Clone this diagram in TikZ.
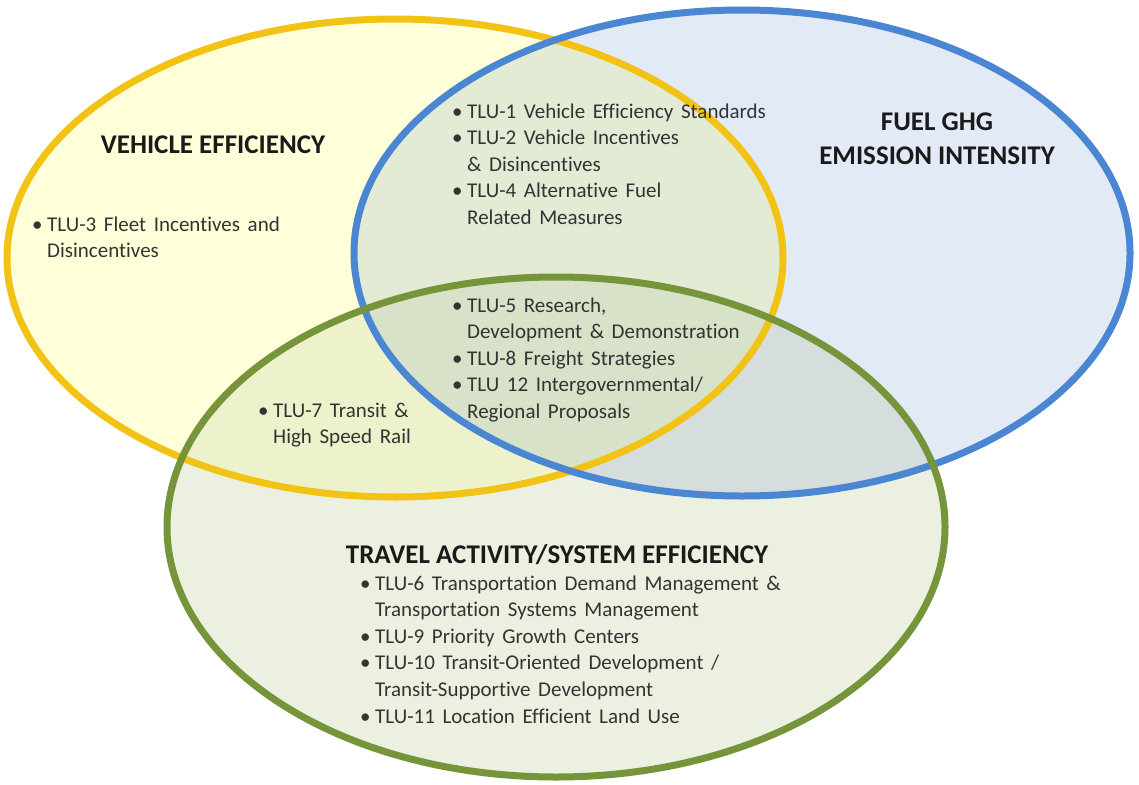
\documentclass[tikz,border=0pt]{standalone}
\usepackage{fontspec}
\setmainfont{Carlito}[Ligatures=NoCommon]
\newfontfamily\listfont{Carlito}[WordSpace=1.6,Ligatures=NoCommon]
\definecolor{yline}{HTML}{F2C314}
\definecolor{bline}{HTML}{4A86D2}
\definecolor{gline}{HTML}{76943A}
\definecolor{yfillc}{HTML}{FFFFDA}
\definecolor{bfillc}{HTML}{E2EAF6}
\definecolor{gfillc}{HTML}{EBF0E0}
\definecolor{ybfillc}{HTML}{E3EBD5}
\definecolor{ygfillc}{HTML}{EEF2CC}
\definecolor{bgfillc}{HTML}{D5DEDC}
\definecolor{ybgfillc}{HTML}{D8E2C8}
\definecolor{txt}{HTML}{333333}
\definecolor{ttl}{HTML}{1A1A1A}
\newcommand{\bl}{\llap{\makebox[15pt][l]{\textbullet}}}
\newcommand{\lns}[1]{\begin{tabular}[t]{@{}l@{}}#1\end{tabular}}
\begin{document}
\begin{tikzpicture}[x=1pt,y=-1pt,
  ring/.style={line width=7pt},
  itemlist/.style={anchor=base west,inner sep=0pt,text=txt,font=\listfont\fontsize{21}{26.6}\selectfont},
  heading/.style={anchor=base,inner sep=0pt,text=ttl,align=center,font=\bfseries\fontsize{27}{34}\selectfont}]
\useasboundingbox (0,0) rectangle (1139,784);
% fills
\fill[yfillc] (395,258) ellipse [x radius=388pt, y radius=239pt];
\fill[bfillc] (742,253) ellipse [x radius=388pt, y radius=243pt];
\fill[gfillc] (556,527) ellipse [x radius=389pt, y radius=250pt];
\begin{scope}
  \clip (395,258) ellipse [x radius=388pt, y radius=239pt];
  \fill[ybfillc] (742,253) ellipse [x radius=388pt, y radius=243pt];
\end{scope}
\begin{scope}
  \clip (395,258) ellipse [x radius=388pt, y radius=239pt];
  \fill[ygfillc] (556,527) ellipse [x radius=389pt, y radius=250pt];
\end{scope}
\begin{scope}
  \clip (742,253) ellipse [x radius=388pt, y radius=243pt];
  \fill[bgfillc] (556,527) ellipse [x radius=389pt, y radius=250pt];
\end{scope}
\begin{scope}
  \clip (395,258) ellipse [x radius=388pt, y radius=239pt];
  \clip (742,253) ellipse [x radius=388pt, y radius=243pt];
  \fill[ybgfillc] (556,527) ellipse [x radius=389pt, y radius=250pt];
\end{scope}
% outlines
\draw[ring,yline] (395,258) ellipse [x radius=388pt, y radius=239pt];
\draw[ring,bline] (742,253) ellipse [x radius=388pt, y radius=243pt];
\draw[ring,gline] (556,527) ellipse [x radius=389pt, y radius=250pt];
% headings
\node[heading] (veh) at (213,153) {VEHICLE EFFICIENCY};
\node[heading] (fuel) at (937,164) {FUEL GHG\\EMISSION INTENSITY};
\node[heading] (travel) at (557,563) {TRAVEL ACTIVITY/SYSTEM EFFICIENCY};
% lists
\node[itemlist] (l3) at (47,231) {\lns{\bl TLU-3 Fleet Incentives and\\Disincentives}};
\node[itemlist] (ltop) at (467,118) {\lns{\bl TLU-1 Vehicle Efficiency Standards\\\bl TLU-2 Vehicle Incentives\\ \& Disincentives\\\bl TLU-4 Alternative Fuel\\Related Measures}};
\node[itemlist] (lmid) at (467,312) {\lns{\bl TLU-5 Research,\\Development \& Demonstration\\\bl TLU-8 Freight Strategies\\\bl TLU 12 Intergovernmental/\\Regional Proposals}};
\node[itemlist] (l7) at (273,417) {\lns{\bl TLU-7 Transit \&\\High Speed Rail}};
\node[itemlist] (lbot) at (375,590) {\lns{\bl TLU-6 Transportation Demand Management \&\\Transportation Systems Management\\\bl TLU-9 Priority Growth Centers\\\bl TLU-10 Transit-Oriented Development /\\Transit-Supportive Development\\\bl TLU-11 Location Efficient Land Use}};
\end{tikzpicture}
\end{document}
